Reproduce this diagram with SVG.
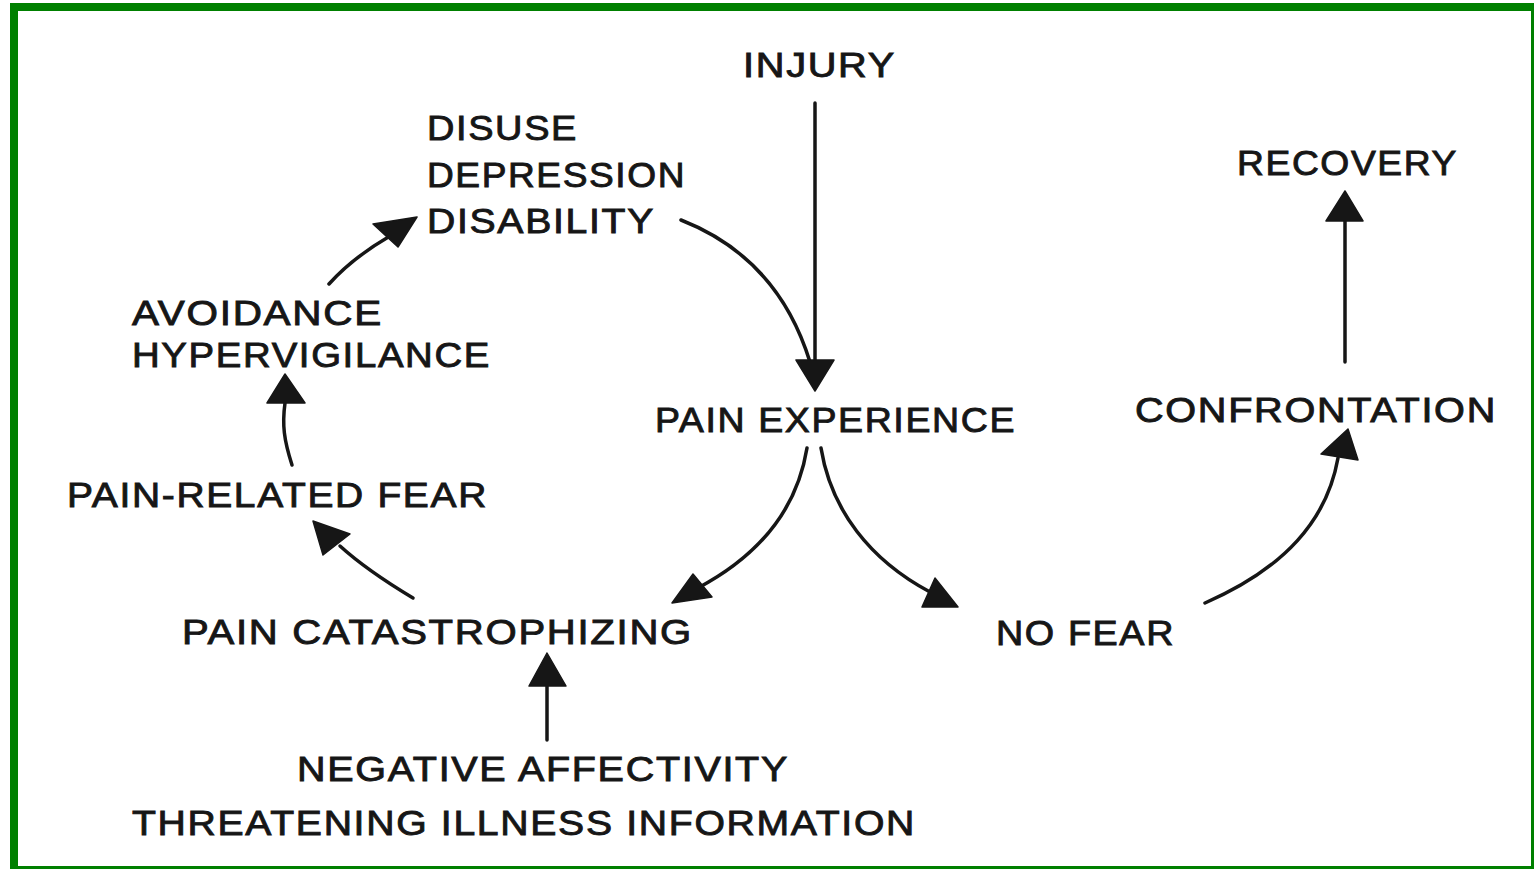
<svg xmlns="http://www.w3.org/2000/svg" width="1534" height="869" viewBox="0 0 1534 869">
<style>
.t{font-family:"Liberation Sans",Arial,sans-serif;font-size:35px;letter-spacing:1.5px;fill:#161616;stroke:#161616;stroke-width:0.9;}
.c{fill:none;stroke:#161616;stroke-width:3.5;stroke-linecap:round;}
.h{fill:#161616;stroke:#161616;stroke-width:1.5;stroke-linejoin:round;}
.b{fill:#008000;}
</style>
<rect width="1534" height="869" fill="#ffffff"/>
<g id="border">
<rect class="b" x="10" y="3" width="1524" height="8"/>
<rect class="b" x="10" y="3" width="8" height="866"/>
<rect class="b" x="1531" y="3" width="3" height="866"/>
<rect class="b" x="10" y="866" width="1524" height="3"/>
</g>
<g id="connectors">
<path class="c" d="M815,103 L815,362"/>
<path class="c" d="M681,220 Q778,258 810,362"/>
<polygon class="h" points="796,360 834,360 815,391"/>
<path class="c" d="M807,448 C797,510 760,555 698,588"/>
<polygon class="h" points="672,603 693,574 712,597"/>
<path class="c" d="M821,448 C831,510 870,560 930,592"/>
<polygon class="h" points="935,578 922,607 958,607"/>
<path class="c" d="M1205,603 C1285,568 1327,520 1338,458"/>
<polygon class="h" points="1348,429 1321,454 1358,460"/>
<path class="c" d="M1345,362 L1345,220"/>
<polygon class="h" points="1345,191 1326,221 1363,221"/>
<path class="c" d="M547,740 L547,686"/>
<polygon class="h" points="547,653 529,686 566,686"/>
<path class="c" d="M413,598 C388,583 362,566 340,546"/>
<polygon class="h" points="313,521 323,555 350,534"/>
<path class="c" d="M292,465 C284,440 282,425 285,403"/>
<polygon class="h" points="285,374 267,403 305,403"/>
<path class="c" d="M329,284 C346,265 366,250 390,236"/>
<polygon class="h" points="417,217 373,224 398,247"/>
</g>
<g id="injury"><text class="t" x="743" y="77" textLength="153" lengthAdjust="spacingAndGlyphs">INJURY</text></g>
<g id="disuse">
<text class="t" x="427" y="140" textLength="151" lengthAdjust="spacingAndGlyphs">DISUSE</text>
<text class="t" x="427" y="187" textLength="259" lengthAdjust="spacingAndGlyphs">DEPRESSION</text>
<text class="t" x="427" y="233" textLength="228" lengthAdjust="spacingAndGlyphs">DISABILITY</text>
</g>
<g id="recovery"><text class="t" x="1237" y="175" textLength="221" lengthAdjust="spacingAndGlyphs">RECOVERY</text></g>
<g id="avoidance">
<text class="t" x="132" y="325" textLength="251" lengthAdjust="spacingAndGlyphs">AVOIDANCE</text>
<text class="t" x="132" y="367" textLength="359" lengthAdjust="spacingAndGlyphs">HYPERVIGILANCE</text>
</g>
<g id="pain-experience"><text class="t" x="655" y="432" textLength="361" lengthAdjust="spacingAndGlyphs">PAIN EXPERIENCE</text></g>
<g id="confrontation"><text class="t" x="1135" y="422" textLength="362" lengthAdjust="spacingAndGlyphs">CONFRONTATION</text></g>
<g id="pain-related-fear"><text class="t" x="67" y="507" textLength="421" lengthAdjust="spacingAndGlyphs">PAIN-RELATED FEAR</text></g>
<g id="pain-catastrophizing"><text class="t" x="182" y="644" textLength="511" lengthAdjust="spacingAndGlyphs">PAIN CATASTROPHIZING</text></g>
<g id="no-fear"><text class="t" x="996" y="645" textLength="179" lengthAdjust="spacingAndGlyphs">NO FEAR</text></g>
<g id="negative-affectivity">
<text class="t" x="297" y="781" textLength="492" lengthAdjust="spacingAndGlyphs">NEGATIVE AFFECTIVITY</text>
<text class="t" x="132" y="835" textLength="784" lengthAdjust="spacingAndGlyphs">THREATENING ILLNESS INFORMATION</text>
</g>
</svg>
